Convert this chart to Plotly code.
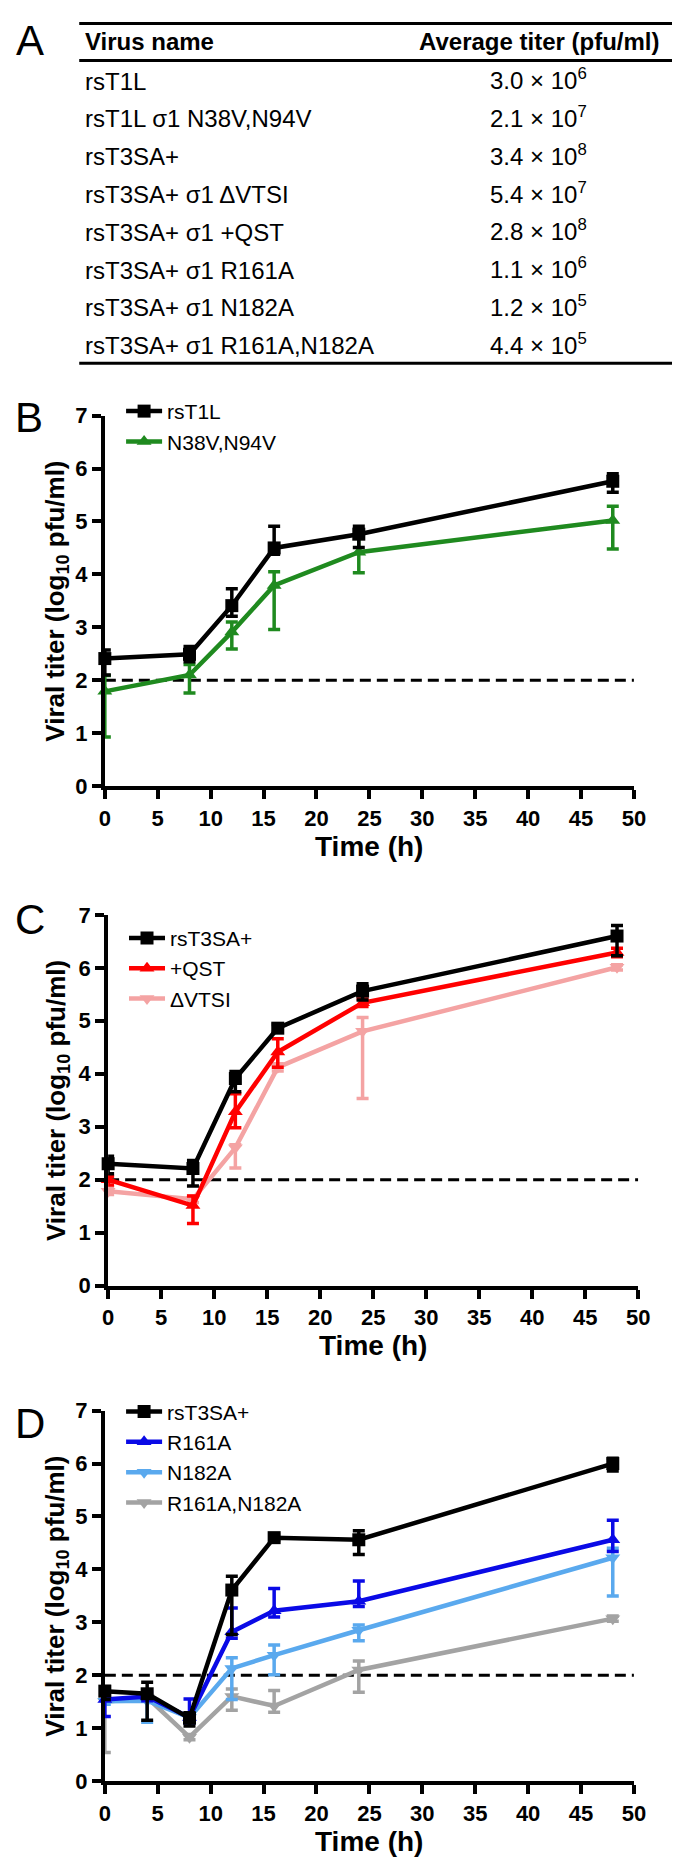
import plotly.graph_objects as go

W, H = 680, 1868

def px_x(x):
    return x / W

def px_y(y):
    return 1 - y / H

# ---------------- Data ----------------
table_headers = ["Virus name", "Average titer (pfu/ml)"]
virus_names = ["rsT1L", "rsT1L σ1 N38V,N94V", "rsT3SA+", "rsT3SA+ σ1 ΔVTSI",
               "rsT3SA+ σ1 +QST", "rsT3SA+ σ1 R161A", "rsT3SA+ σ1 N182A",
               "rsT3SA+ σ1 R161A,N182A"]
titer_mantissa = [3.0, 2.1, 3.4, 5.4, 2.8, 1.1, 1.2, 4.4]
titer_exponent = [6, 7, 8, 7, 8, 6, 5, 5]

detection_limit = 2

# Panel B
time_B = [0, 8, 12, 16, 24, 48]
B_rsT1L = [2.41, 2.49, 3.41, 4.50, 4.76, 5.76]
B_rsT1L_up = [0.16, 0.15, 0.32, 0.41, 0.15, 0.14]
B_rsT1L_dn = [0.31, 0.14, 0.20, 0.12, 0.25, 0.21]
B_N38V = [1.79, 2.10, 2.91, 3.79, 4.42, 5.02]
B_N38V_up = [0.30, 0.20, 0.19, 0.26, 0.33, 0.27]
B_N38V_dn = [0.86, 0.34, 0.32, 0.83, 0.39, 0.54]

# Panel C
time_C = [0, 8, 12, 16, 24, 48]
C_rsT3SA = [2.30, 2.21, 3.91, 4.86, 5.56, 6.60]
C_rsT3SA_up = [0.14, 0.15, 0.13, 0.07, 0.14, 0.20]
C_rsT3SA_dn = [0.19, 0.33, 0.25, 0.07, 0.17, 0.37]
C_QST = [2.00, 1.51, 3.28, 4.41, 5.34, 6.29]
C_QST_up = [0.06, 0.18, 0.34, 0.25, 0.07, 0.08]
C_QST_dn = [0.10, 0.34, 0.30, 0.29, 0.07, 0.08]
C_VTSI = [1.78, 1.63, 2.60, 4.12, 4.80, 6.01]
C_VTSI_up = [0.06, 0.06, 0.06, 0.07, 0.26, 0.05]
C_VTSI_dn = [0.06, 0.06, 0.38, 0.07, 1.27, 0.05]

# Panel D
time_D = [0, 4, 8, 12, 16, 24, 48]
D_rsT3SA = [1.70, 1.65, 1.19, 3.61, 4.60, 4.56, 6.00]
D_rsT3SA_up = [0.09, 0.22, 0.10, 0.26, 0.05, 0.17, 0.10]
D_rsT3SA_dn = [0.16, 0.50, 0.15, 0.84, 0.05, 0.28, 0.14]
D_R161A = [1.54, 1.60, 1.20, 2.82, 3.22, 3.40, 4.56]
D_R161A_up = [0.12, 0.08, 0.35, 0.45, 0.42, 0.38, 0.37]
D_R161A_dn = [0.32, 0.08, 0.10, 0.12, 0.12, 0.10, 0.22]
D_N182A = [1.51, 1.52, 1.20, 2.13, 2.38, 2.85, 4.22]
D_N182A_up = [0.06, 0.06, 0.06, 0.20, 0.19, 0.10, 0.18]
D_N182A_dn = [0.06, 0.41, 0.06, 0.59, 0.37, 0.20, 0.72]
D_double = [1.50, 1.58, 0.83, 1.60, 1.42, 2.10, 3.07]
D_double_up = [0.08, 0.06, 0.05, 0.14, 0.29, 0.17, 0.05]
D_double_dn = [0.96, 0.06, 0.05, 0.26, 0.12, 0.42, 0.05]

x_ticks = list(range(0, 51, 5))
y_ticks = list(range(0, 8))

# ---------------- Style ----------------
TXT = "Liberation Sans, Arial, sans-serif"
BLACK = "#000000"
GREEN = "#1f8a1f"
RED = "#ff0000"
PINK = "#f4a3a3"
BLUE = "#0a0ae6"
LBLUE = "#5aa9ee"
GREY = "#a3a3a3"

fig = go.Figure()
annotations = []
shapes = []

# ---------------- Table (panel A) ----------------
titer_text = [f"{m:.1f} × 10<sup>{e}</sup>" for m, e in zip(titer_mantissa, titer_exponent)]
ROW0, ROWH = 62, 38.3
annotations.append(dict(text="<b>" + table_headers[0] + "</b>", x=px_x(71), y=px_y(22),
                        xanchor="left", yanchor="middle"))
annotations.append(dict(text="<b>" + table_headers[1] + "</b>", x=px_x(539), y=px_y(22),
                        xanchor="center", yanchor="middle"))
for i, (nm, tt) in enumerate(zip(virus_names, titer_text)):
    yy = ROW0 + ROWH * i
    annotations.append(dict(text=nm, x=px_x(71), y=px_y(yy), xanchor="left", yanchor="middle"))
    annotations.append(dict(text=tt, x=px_x(539), y=px_y(yy - 2), xanchor="center", yanchor="middle"))
for a in annotations:
    a.update(xref="paper", yref="paper", showarrow=False,
             font=dict(family=TXT, size=24, color="black"))
for yy in [3.5, 41, 348]:
    shapes.append(dict(type="line", xref="paper", yref="paper",
                       x0=px_x(67), x1=px_x(680), y0=px_y(yy), y1=px_y(yy),
                       line=dict(color="black", width=3)))

# ---------------- Panels ----------------
panels = [
    # (axis suffix, x-domain px, y-domain px (top, bottom), legend id, legend pos px)
    ("", (93.3, 636.8), (401, 776.5), "legend", (110, 376)),
    ("2", (96.7, 641.2), (907, 1282.7), "legend2", (113, 910)),
    ("3", (93.3, 636.8), (1409.5, 1785), "legend3", (110, 1390)),
]

def axis_cfg(rng, ticks, dom):
    return dict(range=rng, tickvals=ticks, domain=dom, showline=True, linecolor="black",
                linewidth=4, ticks="outside", ticklen=9, tickwidth=3.5, tickcolor="black",
                showgrid=False, zeroline=False, fixedrange=True,
                tickfont=dict(family=TXT, size=22, color="black", weight="bold"))

layout_axes = {}
for suf, xd, yd, leg, lpos in panels:
    layout_axes["xaxis" + suf] = dict(axis_cfg([0, 50], x_ticks, [px_x(xd[0]), px_x(xd[1])]),
                                      anchor="y" + suf)
    layout_axes["yaxis" + suf] = dict(axis_cfg([0, 7], y_ticks, [px_y(yd[1]), px_y(yd[0])]),
                                      anchor="x" + suf)
    layout_axes[leg] = dict(x=px_x(lpos[0]), y=px_y(lpos[1]), xanchor="left", yanchor="top",
                            bgcolor="rgba(0,0,0,0)", itemwidth=36,
                            font=dict(family=TXT, size=21, color="black"),
                            tracegroupgap=0, traceorder="normal")
    fig.add_trace(go.Scatter(x=[0, 50], y=[detection_limit, detection_limit], mode="lines",
                             line=dict(color="black", width=3, dash="11px,6px"),
                             showlegend=False, hoverinfo="skip",
                             xaxis="x" + suf, yaxis="y" + suf))

def add_series(t, y, up, dn, name, color, symbol, suf, leg, rank):
    fig.add_trace(go.Scatter(
        x=t, y=y, name=name, mode="lines+markers",
        line=dict(color=color, width=4.5),
        marker=dict(symbol=symbol, size=13, color=color),
        error_y=dict(type="data", symmetric=False, array=up, arrayminus=dn,
                     color=color, thickness=3.5, width=6),
        cliponaxis=False, legend=leg, legendrank=rank,
        xaxis="x" + suf, yaxis="y" + suf))

# Panel B (bottom-most first)
add_series(time_B, B_N38V, B_N38V_up, B_N38V_dn, "N38V,N94V", GREEN, "triangle-up", "", "legend", 2)
add_series(time_B, B_rsT1L, B_rsT1L_up, B_rsT1L_dn, "rsT1L", BLACK, "square", "", "legend", 1)
# Panel C
add_series(time_C, C_VTSI, C_VTSI_up, C_VTSI_dn, "ΔVTSI", PINK, "triangle-down", "2", "legend2", 3)
add_series(time_C, C_QST, C_QST_up, C_QST_dn, "+QST", RED, "triangle-up", "2", "legend2", 2)
add_series(time_C, C_rsT3SA, C_rsT3SA_up, C_rsT3SA_dn, "rsT3SA+", BLACK, "square", "2", "legend2", 1)
# Panel D
add_series(time_D, D_double, D_double_up, D_double_dn, "R161A,N182A", GREY, "triangle-down", "3", "legend3", 4)
add_series(time_D, D_N182A, D_N182A_up, D_N182A_dn, "N182A", LBLUE, "triangle-down", "3", "legend3", 3)
add_series(time_D, D_R161A, D_R161A_up, D_R161A_dn, "R161A", BLUE, "triangle-up", "3", "legend3", 2)
add_series(time_D, D_rsT3SA, D_rsT3SA_up, D_rsT3SA_dn, "rsT3SA+", BLACK, "square", "3", "legend3", 1)

# ---------------- Labels ----------------
for letter, (lx, ly) in zip(["A", "B", "C", "D"], [(16, 21), (15, 403), (16, 912), (16, 1423)]):
    annotations.append(dict(text=letter, x=px_x(lx), y=px_y(ly), xref="paper", yref="paper",
                            showarrow=False, xanchor="center", yanchor="middle",
                            font=dict(family=TXT, size=42, color="black")))
for suf, xd, yd, leg, lpos in panels:
    annotations.append(dict(text="Viral titer (log<sub>10</sub> pfu/ml)",
                            x=px_x(44), y=px_y((yd[0] + yd[1]) / 2), xref="paper", yref="paper",
                            showarrow=False, textangle=-90, xanchor="center", yanchor="middle",
                            font=dict(family=TXT, size=26, color="black", weight="bold")))
    annotations.append(dict(text="Time (h)", x=px_x((xd[0] + xd[1]) / 2), y=px_y(yd[1] + 61),
                            xref="paper", yref="paper", showarrow=False,
                            xanchor="center", yanchor="middle",
                            font=dict(family=TXT, size=28, color="black", weight="bold")))

fig.update_layout(width=W, height=H, margin=dict(l=0, r=0, t=0, b=0),
                  paper_bgcolor="white", plot_bgcolor="white",
                  annotations=annotations, shapes=shapes, **layout_axes)

fig.write_html("out.html")
